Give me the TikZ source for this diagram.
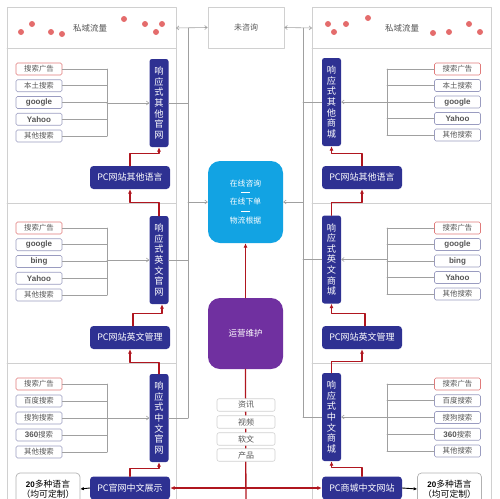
\documentclass[tikz,border=0pt]{standalone}
\usepackage{fontspec}
\setmainfont{Noto Sans CJK SC}
\newfontfamily\lat{Liberation Sans}
\usepackage{xcolor}
\usepackage{tikz}
\usetikzlibrary{arrows.meta,positioning}
\definecolor{navy}{HTML}{2E3192}
\definecolor{skyb}{HTML}{12A3E3}
\definecolor{purp}{HTML}{7030A0}
\definecolor{dotred}{HTML}{E46C6C}
\definecolor{chainred}{HTML}{B0161F}
\definecolor{framegray}{HTML}{D0D0D0}
\definecolor{linegray}{HTML}{A0A0A0}
\definecolor{srchedge}{HTML}{9A9CC0}
\definecolor{adedge}{HTML}{E07A7A}
\definecolor{textgray}{HTML}{555555}
\newcommand{\en}[1]{{\lat\bfseries\fontsize{8}{9}\selectfont #1}}
\newcommand{\sep}{\rule[2.5pt]{9pt}{0.9pt}}
\tikzset{
  panel/.style={draw=framegray, line width=0.7pt},
  plainbox/.style={draw=framegray, line width=0.7pt, minimum width=76pt, minimum height=41pt,
    text=textgray, font=\fontsize{8}{9}\selectfont},
  srch/.style={draw=srchedge, line width=0.6pt, rounded corners=1.5pt, fill=white,
    minimum width=46pt, minimum height=12pt, inner sep=0pt, text=textgray,
    font=\fontsize{7.4}{8}\selectfont},
  srchad/.style={srch, draw=adedge},
  vbox/.style={fill=navy, rounded corners=2.5pt, text=white, minimum width=19pt,
    minimum height=88pt, inner sep=0pt, align=center, font=\fontsize{9.2}{10.6}\selectfont},
  pcbox/.style={fill=navy, rounded corners=3.5pt, text=white, minimum width=80pt,
    minimum height=23pt, inner sep=0pt, font=\fontsize{9}{10}\selectfont},
  langbox/.style={draw=gray!60, line width=0.7pt, rounded corners=4pt, fill=white,
    minimum width=64pt, minimum height=32pt, inner sep=0pt, align=center,
    font=\fontsize{8.8}{10.5}\selectfont},
  tag/.style={draw=framegray, line width=0.6pt, rounded corners=2pt, fill=white,
    minimum width=58pt, minimum height=12.5pt, inner sep=0pt, text=textgray,
    font=\fontsize{8}{8}\selectfont},
  bigbox/.style={rounded corners=12pt, text=white, minimum width=75pt, inner sep=0pt, align=center},
  feed/.style={draw=linegray, line width=0.6pt},
  feedtip/.style={feed, -{Straight Barb[length=2.5pt,width=4pt]}},
  redline/.style={draw=chainred, line width=1.3pt},
  chain/.style={redline, -{Latex[length=4.5pt,width=4pt]}},
  privdot/.style={fill=dotred},
  privtxt/.style={text=textgray, font=\fontsize{8.5}{9}\selectfont}
}

\begin{document}
\begin{tikzpicture}[x=1pt, y=-1pt, line cap=round, line join=round]
  \useasboundingbox (0,0) rectangle (500,498);
  \clip (0,0) rectangle (500,498);

  % panels
  \draw[panel] (7,7) rectangle (176,520);
  \draw[panel] (7,48) -- (176,48);
  \draw[panel] (7,203) -- (176,203);
  \draw[panel] (7,363) -- (176,363);
  \draw[panel] (312,7) rectangle (491,520);
  \draw[panel] (312,48) -- (491,48);
  \draw[panel] (312,203) -- (491,203);
  \draw[panel] (312,363) -- (491,363);

  % private traffic
  \node[privtxt] (privL) at (90,28) {私域流量};
  \node[privtxt] (privR) at (402,28) {私域流量};
  \foreach \px/\py in {21/32, 32/24, 51/32, 62/34, 124/19, 145/24, 162/24, 156/32,
                       328/24, 334/32, 346/24, 368/18, 433/33, 449/32, 469/24, 480/32}
    \fill[privdot] (\px,\py) circle (3);

  \node[plainbox] (uncons) at (246,27.5) {未咨询};

  % centre
  \coordinate (srcB) at (246,520);
  \node[bigbox, fill=skyb, minimum height=82pt, font=\fontsize{7.8}{9.3}\selectfont] (online) at (245.5,202)
    {在线咨询\\\sep\\在线下单\\\sep\\物流根据};
  \node[bigbox, fill=purp, minimum height=71pt, font=\fontsize{8.5}{9}\selectfont] (ops) at (245.5,333.5) {运营维护};
  \draw[redline] (srcB) -- (ops.south);
  \draw[chain] (ops.north) -- (online.south);
  \node[tag] (cInfo) at (246,405) {资讯};
  \node[tag] (cVideo) at (246,422) {视频};
  \node[tag] (cSoft) at (246,439) {软文};
  \node[tag] (cProd) at (246,455) {产品};

  % left column
  \node[vbox] (vOtL) at (159,103) {响\\应\\式\\其\\他\\官\\网};
  \node[vbox] (vEnL) at (159,260) {响\\应\\式\\英\\文\\官\\网};
  \node[vbox] (vZhL) at (159,418) {响\\应\\式\\中\\文\\官\\网};
  \node[pcbox] (pcOtL) at (130,177.5) {PC网站其他语言};
  \node[pcbox] (pcEnL) at (130,337.5) {PC网站英文管理};
  \node[pcbox] (pcZhL) at (130,488) {PC官网中文展示};
  \node[langbox] (langL) at (48,489) {\en{20}多种语言\\（均可定制）};

  \foreach \sty/\lbl [count=\i] in {srchad/搜索广告, srch/本土搜索, srch/\en{google}, srch/\en{Yahoo}, srch/其他搜索}
    \node[\sty] (sOtL\i) at (39,{69+16.75*(\i-1)}) {\lbl};
  \foreach \sty/\lbl [count=\i] in {srchad/搜索广告, srch/\en{google}, srch/\en{bing}, srch/\en{Yahoo}, srch/其他搜索}
    \node[\sty] (sEnL\i) at (39,{228+16.75*(\i-1)}) {\lbl};
  \foreach \sty/\lbl [count=\i] in {srchad/搜索广告, srch/百度搜索, srch/搜狗搜索, srch/{\en{360}搜索}, srch/其他搜索}
    \node[\sty] (sZhL\i) at (39,{384+17*(\i-1)}) {\lbl};

  \coordinate (bL) at (107,0);
  \foreach \sec in {OtL,EnL,ZhL} {
    \foreach \i in {1,...,5}
      \draw[feed] (s\sec\i.east) -- (s\sec\i.east -| bL);
    \draw[feed] (s\sec1.east -| bL) -- (s\sec5.east -| bL);
    \draw[feedtip] (bL |- v\sec.west) -- (v\sec.west);
  }

  % right column
  \node[vbox] (vOtR) at (331.5,102) {响\\应\\式\\其\\他\\商\\城};
  \node[vbox] (vEnR) at (331.5,259.5) {响\\应\\式\\英\\文\\商\\城};
  \node[vbox] (vZhR) at (331.5,417) {响\\应\\式\\中\\文\\商\\城};
  \node[pcbox] (pcOtR) at (362,177.5) {PC网站其他语言};
  \node[pcbox] (pcEnR) at (362,337.5) {PC网站英文管理};
  \node[pcbox] (pcZhR) at (362,488) {PC商城中文网站};
  \node[langbox] (langR) at (449.5,489) {\en{20}多种语言\\（均可定制）};

  \foreach \sty/\lbl [count=\i] in {srchad/搜索广告, srch/本土搜索, srch/\en{google}, srch/\en{Yahoo}, srch/其他搜索}
    \node[\sty] (sOtR\i) at (457.5,{69+16.5*(\i-1)}) {\lbl};
  \foreach \sty/\lbl [count=\i] in {srchad/搜索广告, srch/\en{google}, srch/\en{bing}, srch/\en{Yahoo}, srch/其他搜索}
    \node[\sty] (sEnR\i) at (457.5,{228+16.5*(\i-1)}) {\lbl};
  \foreach \sty/\lbl [count=\i] in {srchad/搜索广告, srch/百度搜索, srch/搜狗搜索, srch/{\en{360}搜索}, srch/其他搜索}
    \node[\sty] (sZhR\i) at (457.5,{384+16.75*(\i-1)}) {\lbl};

  \coordinate (bR) at (387,0);
  \foreach \sec in {OtR,EnR,ZhR} {
    \foreach \i in {1,...,5}
      \draw[feed] (s\sec\i.west) -- (s\sec\i.west -| bR);
    \draw[feed] (s\sec1.west -| bR) -- (s\sec5.west -| bR);
    \draw[feedtip] (bR |- v\sec.east) -- (v\sec.east);
  }

  % trunks to the middle
  \coordinate (tL) at (188,28);
  \coordinate (tLend) at (188,418);
  \coordinate (tR) at (303,28);
  \coordinate (tRend) at (303,417);
  \coordinate (edgeL) at (176,28);
  \coordinate (edgeR) at (312,28);
  \draw[feed] (tL) -- (tLend);
  \draw[feed] (tR) -- (tRend);
  \draw[feed, {Straight Barb[length=2.5pt,width=4pt]}-{Straight Barb[length=2.5pt,width=4pt]}] (edgeL) -- (uncons.west);
  \draw[feed, {Straight Barb[length=2.5pt,width=4pt]}-{Straight Barb[length=2.5pt,width=4pt]}] (uncons.east) -- (edgeR);
  \foreach \v in {vOtL,vEnL,vZhL}
    \draw[feed] (\v.east) -- (\v.east -| tL);
  \foreach \v in {vOtR,vEnR,vZhR}
    \draw[feed] (\v.west) -- (\v.west -| tR);
  \draw[feedtip] (tL |- online.west) -- (online.west);
  \draw[feedtip] (tR |- online.east) -- (online.east);

  % red chain, left
  \draw[chain] (pcZhL.north) -- ++(0,-8) -| (vZhL.south);
  \draw[chain] (vZhL.north) -- ++(0,-11) -| (pcEnL.south);
  \draw[chain] ([xshift=3pt]pcEnL.north) -- ++(0,-12) -| ([xshift=3pt]vEnL.south);
  \draw[chain] (vEnL.north) -- ++(0,-13) -| (pcOtL.south);
  \draw[chain] (pcOtL.north) -- ++(0,-12) -| (vOtL.south);

  % red chain, right
  \draw[chain] (pcZhR.north) -- ++(0,-9) -| (vZhR.south);
  \draw[chain] (vZhR.north) -- ++(0,-11) -| (pcEnR.south);
  \draw[chain] ([xshift=3pt]pcEnR.north) -- ++(0,-12) -| (vEnR.south);
  \draw[chain] (vEnR.north) -- ++(0,-13) -| (pcOtR.south);
  \draw[chain] (pcOtR.north) -- ++(0,-12) -| (vOtR.south);

  % bottom row
  \draw[chain, {Latex[length=4.5pt,width=4pt]}-{Latex[length=4.5pt,width=4pt]}] (pcZhL.east) -- (pcZhR.west);
  \draw[line width=0.9pt, -{Latex[length=3.5pt,width=3.5pt]}] (pcZhL.west) -- (langL.east);
  \draw[line width=0.9pt, -{Latex[length=3.5pt,width=3.5pt]}] (pcZhR.east) -- (langR.west);
\end{tikzpicture}
\end{document}
